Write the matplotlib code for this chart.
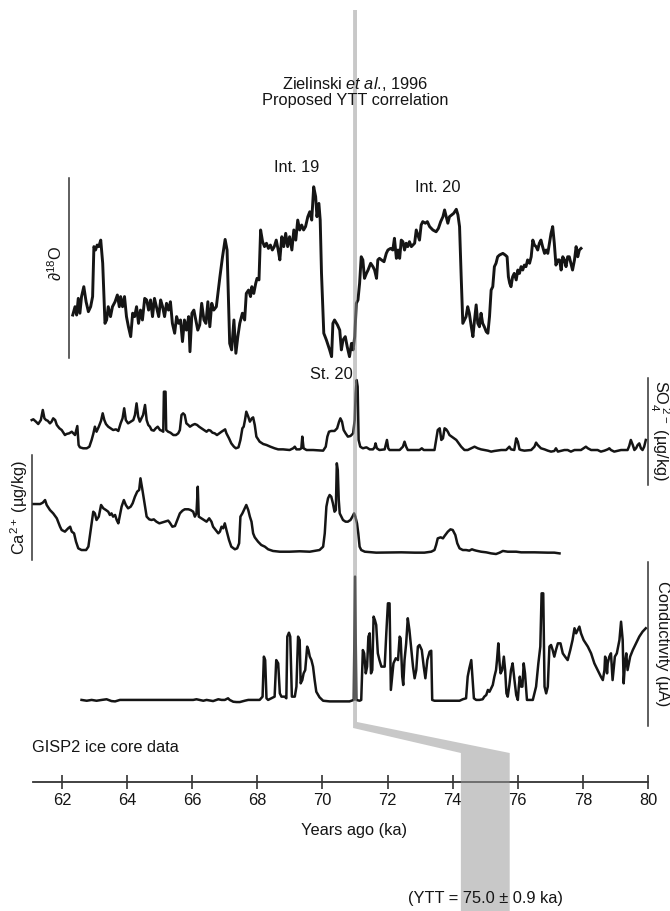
import matplotlib
matplotlib.use('Agg')
import matplotlib.pyplot as plt
from matplotlib.patches import Polygon

plt.rcParams['font.family'] = ['Liberation Sans', 'DejaVu Sans']
plt.rcParams['mathtext.fontset'] = 'custom'
plt.rcParams['mathtext.rm'] = 'Liberation Sans'
plt.rcParams['mathtext.it'] = 'Liberation Sans:italic'

# --- data (age in ka, values in arbitrary panel units) ---
d18o_age = [62.33, 62.40, 62.45, 62.50, 62.55, 62.60, 62.67, 62.74, 62.81, 62.88,
            62.94, 62.98, 63.03, 63.08, 63.13, 63.19, 63.25, 63.32, 63.37, 63.42,
            63.49, 63.55, 63.63, 63.70, 63.76, 63.80, 63.86, 63.92, 63.98, 64.04,
            64.11, 64.17, 64.23, 64.29, 64.35, 64.41, 64.47, 64.54, 64.60, 64.66,
            64.72, 64.78, 64.84, 64.90, 64.97, 65.03, 65.09, 65.15, 65.21, 65.27,
            65.33, 65.39, 65.46, 65.52, 65.58, 65.64, 65.70, 65.76, 65.82, 65.89,
            65.93, 65.99, 66.05, 66.11, 66.17, 66.23, 66.29, 66.36, 66.42, 66.48,
            66.54, 66.60, 66.66, 66.74, 66.85, 66.93, 67.01, 67.07, 67.15, 67.21,
            67.28, 67.34, 67.40, 67.46, 67.54, 67.61, 67.66, 67.73, 67.79, 67.83,
            67.89, 67.95, 67.99, 68.05, 68.10, 68.16, 68.22, 68.28, 68.34, 68.40,
            68.46, 68.52, 68.58, 68.64, 68.69, 68.75, 68.81, 68.87, 68.93, 68.99,
            69.06, 69.12, 69.18, 69.24, 69.30, 69.36, 69.42, 69.48, 69.55, 69.61,
            69.67, 69.73, 69.79, 69.83, 69.89, 69.93, 69.97, 70.04, 70.12, 70.22,
            70.28, 70.32, 70.37, 70.46, 70.53, 70.58, 70.63, 70.70, 70.76, 70.83,
            70.89, 70.94, 70.99, 71.04, 71.09, 71.14, 71.19, 71.24, 71.29, 71.35,
            71.40, 71.48, 71.55, 71.60, 71.66, 71.70, 71.75, 71.81, 71.89, 71.96,
            72.01, 72.09, 72.16, 72.21, 72.27, 72.32, 72.37, 72.42, 72.47, 72.52,
            72.57, 72.62, 72.67, 72.73, 72.83, 72.88, 72.93, 72.98, 73.03, 73.08,
            73.16, 73.22, 73.29, 73.39, 73.49, 73.56, 73.63, 73.70, 73.75, 73.80,
            73.85, 73.90, 73.97, 74.03, 74.11, 74.16, 74.21, 74.26, 74.31, 74.36,
            74.41, 74.46, 74.51, 74.57, 74.62, 74.67, 74.72, 74.77, 74.82, 74.87,
            74.92, 74.97, 75.03, 75.08, 75.13, 75.18, 75.23, 75.28, 75.33, 75.38,
            75.44, 75.54, 75.61, 75.67, 75.71, 75.75, 75.79, 75.84, 75.89, 75.95,
            76.00, 76.05, 76.10, 76.15, 76.20, 76.25, 76.30, 76.36, 76.41, 76.46,
            76.51, 76.56, 76.61, 76.66, 76.71, 76.76, 76.82, 76.87, 76.92, 76.97,
            77.02, 77.07, 77.12, 77.17, 77.23, 77.28, 77.33, 77.38, 77.43, 77.48,
            77.53, 77.58, 77.63, 77.68, 77.74, 77.79, 77.84, 77.89, 77.94]
d18o_val = [-42.09, -41.72, -42.09, -41.35, -42.01, -41.27, -40.83, -41.50, -41.94, -41.72,
            -41.27, -39.05, -39.20, -38.98, -39.05, -38.76, -39.79, -42.46, -42.31, -41.72,
            -42.16, -41.72, -41.50, -41.20, -41.72, -41.27, -41.72, -41.27, -42.16, -42.61,
            -43.05, -42.01, -42.16, -41.72, -42.46, -41.87, -42.31, -41.35, -41.42, -41.87,
            -41.42, -42.16, -41.35, -41.72, -42.16, -41.42, -41.72, -42.16, -41.57, -41.87,
            -41.50, -42.46, -42.90, -42.16, -42.46, -42.31, -43.27, -42.31, -42.76, -42.16,
            -43.72, -42.01, -41.87, -42.31, -42.76, -42.53, -41.57, -42.31, -42.46, -41.50,
            -42.61, -41.57, -41.87, -41.72, -40.39, -39.50, -38.73, -39.20, -43.35, -43.64,
            -42.31, -43.79, -43.05, -42.46, -42.01, -42.31, -41.13, -40.98, -41.27, -40.83,
            -41.13, -40.68, -40.46, -40.53, -38.31, -38.83, -39.05, -38.90, -39.13, -38.98,
            -39.20, -39.05, -38.76, -39.20, -39.64, -38.61, -39.05, -38.46, -39.05, -38.61,
            -39.20, -38.31, -38.76, -37.87, -38.31, -38.09, -38.31, -38.16, -37.72, -37.50,
            -37.87, -36.39, -36.83, -37.72, -37.13, -37.87, -40.24, -42.90, -43.20, -43.64,
            -43.94, -42.46, -42.31, -42.53, -42.76, -43.64, -43.20, -43.05, -43.50, -43.94,
            -43.35, -43.64, -43.05, -41.57, -41.42, -40.68, -39.50, -39.64, -40.46, -40.24,
            -40.09, -39.79, -39.94, -40.09, -40.46, -39.64, -39.57, -39.64, -39.72, -39.35,
            -39.20, -39.13, -39.20, -38.68, -39.57, -39.20, -39.57, -38.76, -38.83, -39.20,
            -38.90, -39.05, -38.83, -39.05, -38.90, -38.31, -38.53, -38.76, -38.09, -37.94,
            -38.01, -37.94, -38.16, -38.31, -38.39, -38.24, -37.94, -37.72, -37.42, -37.72,
            -38.01, -37.72, -37.64, -37.57, -37.39, -37.64, -38.16, -40.39, -42.46, -42.31,
            -42.16, -41.72, -42.01, -42.61, -43.05, -42.31, -41.64, -42.46, -42.61, -42.01,
            -42.46, -42.61, -42.83, -42.90, -42.16, -40.98, -40.83, -39.94, -39.79, -39.50,
            -39.42, -39.35, -39.42, -39.50, -40.39, -40.68, -40.83, -40.39, -40.24, -40.53,
            -40.09, -40.24, -39.94, -40.09, -39.87, -39.94, -39.64, -39.79, -39.50, -38.76,
            -38.98, -39.05, -39.20, -38.90, -38.76, -39.05, -39.35, -39.20, -39.35, -38.90,
            -38.46, -38.16, -38.90, -39.87, -39.64, -39.64, -40.09, -39.50, -39.64, -39.94,
            -39.50, -39.50, -39.79, -40.09, -39.64, -39.05, -39.50, -39.20, -39.13]

so4_age = [61.07, 61.12, 61.20, 61.27, 61.35, 61.41, 61.46, 61.51, 61.56, 61.63,
           61.68, 61.73, 61.79, 61.84, 61.92, 61.99, 62.09, 62.14, 62.22, 62.30,
           62.35, 62.40, 62.47, 62.51, 62.55, 62.65, 62.76, 62.84, 62.91, 62.96,
           63.01, 63.06, 63.13, 63.20, 63.25, 63.30, 63.35, 63.42, 63.49, 63.57,
           63.66, 63.73, 63.80, 63.86, 63.91, 63.96, 64.03, 64.11, 64.19, 64.24,
           64.29, 64.34, 64.39, 64.44, 64.49, 64.55, 64.60, 64.65, 64.70, 64.75,
           64.82, 64.88, 64.94, 65.01, 65.06, 65.11, 65.13, 65.18, 65.20, 65.26,
           65.33, 65.42, 65.50, 65.57, 65.62, 65.67, 65.72, 65.77, 65.82, 65.88,
           65.93, 66.01, 66.08, 66.15, 66.21, 66.28, 66.36, 66.44, 66.50, 66.56,
           66.62, 66.69, 66.76, 66.83, 66.90, 66.95, 67.01, 67.05, 67.13, 67.20,
           67.28, 67.34, 67.42, 67.48, 67.54, 67.58, 67.62, 67.66, 67.72, 67.77,
           67.83, 67.87, 67.92, 67.97, 68.07, 68.18, 68.28, 68.40, 68.53, 68.64,
           68.79, 68.99, 69.10, 69.15, 69.20, 69.30, 69.35, 69.38, 69.42, 69.51,
           69.71, 70.02, 70.10, 70.15, 70.20, 70.27, 70.37, 70.45, 70.51, 70.55,
           70.60, 70.65, 70.71, 70.78, 70.86, 70.94, 70.99, 71.02, 71.05, 71.08,
           71.11, 71.16, 71.24, 71.35, 71.45, 71.55, 71.60, 71.63, 71.67, 71.75,
           71.91, 71.98, 72.02, 72.06, 72.37, 72.47, 72.52, 72.57, 72.62, 72.98,
           73.05, 73.11, 73.44, 73.49, 73.54, 73.60, 73.65, 73.70, 73.75, 73.80,
           73.85, 73.90, 74.00, 74.11, 74.21, 74.26, 74.36, 74.46, 74.57, 74.67,
           74.77, 74.87, 74.97, 75.08, 75.18, 75.28, 75.49, 75.64, 75.69, 75.74,
           75.79, 75.89, 75.95, 76.00, 76.05, 76.10, 76.20, 76.41, 76.51, 76.56,
           76.61, 76.71, 76.82, 76.92, 77.02, 77.12, 77.17, 77.23, 77.43, 77.53,
           77.63, 77.74, 77.94, 78.02, 78.09, 78.15, 78.25, 78.45, 78.55, 78.66,
           78.76, 78.81, 78.86, 78.96, 79.17, 79.37, 79.42, 79.47, 79.53, 79.58,
           79.63, 79.68, 79.73, 79.78, 79.83, 79.88, 79.93]
so4_val = [60.7, 61.4, 59.2, 57.0, 60.7, 70.1, 62.3, 60.7, 60.1, 57.6,
           59.2, 62.3, 60.7, 56.1, 53.0, 51.4, 46.7, 47.7, 48.3, 49.8,
           48.3, 46.7, 55.1, 37.4, 35.2, 34.3, 34.3, 35.8, 42.1, 47.7,
           54.5, 49.8, 54.5, 60.1, 67.0, 60.7, 57.0, 54.5, 53.0, 51.4,
           52.0, 50.5, 57.6, 62.3, 71.7, 60.7, 57.6, 59.2, 60.7, 65.4,
           76.3, 63.9, 59.2, 62.3, 65.4, 74.8, 60.7, 56.1, 54.5, 51.4,
           50.8, 53.0, 54.5, 51.4, 50.8, 49.8, 87.2, 87.2, 51.4, 49.8,
           48.9, 46.7, 46.7, 48.3, 51.4, 65.4, 67.0, 65.4, 57.6, 56.1,
           54.5, 56.1, 57.0, 56.1, 54.5, 53.0, 51.4, 49.8, 51.4, 50.8,
           48.9, 48.3, 46.7, 48.3, 49.8, 50.8, 52.0, 48.3, 43.6, 38.9,
           35.8, 34.3, 35.2, 42.1, 53.0, 54.5, 60.7, 68.5, 63.9, 59.2,
           62.3, 63.2, 56.1, 45.2, 40.5, 38.3, 37.4, 35.8, 34.3, 33.3,
           33.3, 32.7, 34.3, 35.8, 33.3, 33.3, 34.3, 45.2, 34.3, 32.7,
           32.7, 32.1, 35.8, 45.2, 49.8, 50.5, 50.5, 53.0, 59.2, 62.3,
           59.2, 51.4, 48.3, 45.2, 45.8, 48.3, 60.7, 85.7, 98.1, 91.9,
           42.1, 35.8, 34.3, 35.2, 33.3, 33.3, 35.2, 38.9, 34.3, 32.7,
           33.3, 42.1, 34.3, 32.7, 32.7, 35.8, 40.5, 35.8, 32.7, 32.7,
           34.3, 32.7, 32.7, 42.1, 51.4, 53.0, 42.1, 43.6, 53.0, 52.0,
           49.8, 46.7, 44.5, 42.1, 38.0, 35.8, 32.7, 32.7, 34.3, 35.8,
           34.3, 33.3, 32.7, 32.1, 31.2, 31.8, 32.7, 32.7, 34.3, 35.8,
           33.3, 32.7, 43.6, 40.5, 33.3, 32.7, 32.1, 32.7, 35.8, 39.6,
           37.4, 34.3, 33.3, 32.1, 31.2, 31.8, 34.3, 31.2, 32.7, 32.7,
           31.2, 32.7, 32.7, 34.3, 35.8, 34.3, 32.7, 32.7, 31.2, 32.1,
           33.3, 34.3, 32.7, 31.2, 32.7, 32.7, 36.4, 42.1, 37.4, 32.7,
           34.3, 37.4, 38.9, 34.3, 32.7, 35.8, 42.1]

ca_age = [61.12, 61.33, 61.41, 61.48, 61.53, 61.63, 61.73, 61.84, 61.94, 61.99,
          62.09, 62.19, 62.25, 62.30, 62.37, 62.43, 62.50, 62.60, 62.74, 62.81,
          62.86, 62.91, 62.96, 63.01, 63.06, 63.13, 63.20, 63.27, 63.35, 63.42,
          63.47, 63.52, 63.57, 63.63, 63.68, 63.73, 63.78, 63.83, 63.90, 63.96,
          64.03, 64.11, 64.17, 64.24, 64.31, 64.37, 64.41, 64.47, 64.55, 64.60,
          64.68, 64.75, 64.82, 64.90, 64.99, 65.06, 65.16, 65.26, 65.31, 65.39,
          65.47, 65.54, 65.62, 65.70, 65.77, 65.88, 65.95, 66.03, 66.08, 66.13,
          66.17, 66.20, 66.28, 66.36, 66.44, 66.52, 66.59, 66.64, 66.72, 66.80,
          66.85, 66.90, 66.95, 67.00, 67.05, 67.13, 67.20, 67.31, 67.38, 67.44,
          67.48, 67.54, 67.61, 67.66, 67.72, 67.77, 67.82, 67.87, 67.92, 68.02,
          68.12, 68.23, 68.33, 68.48, 68.69, 68.99, 69.30, 69.61, 69.91, 70.02,
          70.07, 70.12, 70.17, 70.22, 70.27, 70.32, 70.37, 70.41, 70.44, 70.47,
          70.50, 70.53, 70.58, 70.63, 70.71, 70.78, 70.86, 70.92, 70.97, 71.01,
          71.06, 71.10, 71.14, 71.19, 71.30, 71.65, 72.42, 72.83, 73.13, 73.34,
          73.44, 73.49, 73.54, 73.63, 73.70, 73.75, 73.85, 73.93, 74.00, 74.08,
          74.14, 74.21, 74.31, 74.41, 74.51, 74.59, 74.65, 74.72, 74.87, 75.03,
          75.18, 75.33, 75.44, 75.54, 75.69, 75.95, 76.10, 76.51, 76.92, 77.12,
          77.28]
ca_val = [53.3, 53.3, 54.6, 57.1, 52.4, 47.6, 44.4, 39.7, 31.7, 28.6,
          27.0, 30.2, 31.7, 27.0, 25.4, 17.5, 11.1, 9.5, 9.5, 12.7,
          23.8, 34.9, 46.0, 44.4, 38.1, 41.3, 52.4, 49.2, 47.6, 46.0,
          42.9, 44.4, 41.3, 42.9, 38.1, 34.9, 42.9, 50.8, 57.1, 52.4,
          49.2, 50.8, 54.0, 60.3, 65.1, 66.7, 77.8, 66.7, 50.8, 41.3,
          38.7, 38.1, 38.7, 36.5, 34.9, 35.6, 36.5, 37.5, 35.6, 31.7,
          32.4, 38.1, 44.4, 47.0, 48.3, 48.3, 47.6, 46.0, 41.3, 44.4,
          69.8, 41.3, 39.7, 38.1, 36.5, 39.7, 36.5, 31.7, 28.6, 25.4,
          27.0, 31.7, 30.2, 34.9, 28.6, 19.0, 12.7, 10.2, 11.1, 15.9,
          41.3, 44.4, 49.2, 52.4, 47.6, 41.3, 36.5, 25.4, 21.6, 17.5,
          14.3, 12.7, 10.2, 8.6, 7.9, 7.9, 8.3, 7.9, 9.5, 12.7,
          25.4, 50.8, 58.7, 61.9, 60.3, 54.0, 46.0, 47.6, 92.1, 85.7,
          57.1, 44.4, 41.3, 38.1, 36.5, 36.5, 38.1, 41.3, 44.4, 41.3,
          34.9, 25.4, 12.7, 9.5, 7.9, 7.0, 7.3, 7.0, 7.0, 7.9,
          9.5, 14.3, 20.6, 21.6, 20.6, 22.9, 27.0, 29.2, 28.6, 23.8,
          15.9, 11.1, 9.5, 9.5, 8.9, 10.2, 9.5, 8.9, 7.9, 7.3,
          6.3, 5.7, 7.0, 8.6, 7.9, 7.9, 7.3, 7.3, 7.0, 7.0,
          6.3]

cond_age = [62.60, 62.76, 62.91, 63.06, 63.22, 63.37, 63.52, 63.63, 63.78, 63.93,
            66.03, 66.13, 66.23, 66.34, 66.44, 66.64, 66.80, 66.90, 67.00, 67.10,
            67.15, 67.26, 67.36, 67.46, 67.61, 67.72, 68.07, 68.16, 68.20, 68.24,
            68.28, 68.33, 68.43, 68.53, 68.58, 68.64, 68.69, 68.74, 68.84, 68.89,
            68.92, 68.97, 69.01, 69.06, 69.15, 69.20, 69.25, 69.30, 69.33, 69.38,
            69.42, 69.47, 69.53, 69.57, 69.61, 69.66, 69.71, 69.76, 69.81, 69.91,
            70.02, 70.22, 70.83, 70.96, 71.00, 71.04, 71.14, 71.19, 71.24, 71.28,
            71.33, 71.37, 71.41, 71.45, 71.49, 71.53, 71.57, 71.61, 71.65, 71.70,
            71.75, 71.81, 71.91, 71.96, 72.01, 72.06, 72.10, 72.14, 72.18, 72.25,
            72.32, 72.37, 72.40, 72.45, 72.48, 72.52, 72.57, 72.62, 72.67, 72.73,
            72.78, 72.83, 72.88, 72.93, 72.98, 73.05, 73.11, 73.16, 73.22, 73.29,
            73.34, 73.37, 73.44, 74.21, 74.31, 74.41, 74.46, 74.51, 74.57, 74.62,
            74.65, 74.72, 74.82, 74.92, 74.97, 75.03, 75.08, 75.13, 75.18, 75.23,
            75.28, 75.33, 75.36, 75.40, 75.44, 75.47, 75.52, 75.57, 75.61, 75.65,
            75.69, 75.74, 75.79, 75.84, 75.89, 75.95, 76.00, 76.03, 76.06, 76.10,
            76.14, 76.18, 76.22, 76.28, 76.46, 76.56, 76.63, 76.69, 76.73, 76.78,
            76.82, 76.87, 76.92, 76.97, 77.02, 77.07, 77.12, 77.17, 77.23, 77.31,
            77.38, 77.45, 77.53, 77.61, 77.68, 77.74, 77.79, 77.84, 77.89, 77.94,
            78.02, 78.15, 78.25, 78.35, 78.45, 78.55, 78.61, 78.66, 78.68, 78.71,
            78.74, 78.76, 78.81, 78.86, 78.91, 78.94, 78.98, 79.04, 79.12, 79.17,
            79.22, 79.25, 79.29, 79.33, 79.37, 79.41, 79.45, 79.53, 79.63, 79.73,
            79.83, 79.93]
cond_val = [15.9, 15.4, 15.9, 15.4, 15.9, 16.3, 15.2, 15.0, 15.9, 15.9,
            15.9, 16.3, 15.9, 15.4, 15.9, 15.2, 16.3, 15.9, 15.9, 16.9,
            15.9, 14.8, 14.6, 14.6, 15.4, 15.9, 15.9, 17.9, 42.3, 40.2,
            16.9, 15.9, 16.9, 17.9, 40.2, 38.2, 19.9, 17.9, 17.9, 16.9,
            54.5, 56.9, 54.5, 17.9, 17.9, 24.0, 54.5, 52.4, 26.0, 28.0,
            32.1, 34.1, 48.4, 46.3, 42.3, 40.2, 36.2, 28.0, 20.9, 17.5,
            15.4, 15.0, 15.0, 15.9, 91.1, 15.9, 15.4, 15.9, 46.3, 44.3,
            32.1, 36.2, 54.5, 56.5, 32.1, 34.1, 66.7, 64.6, 61.6, 44.3,
            40.2, 36.2, 36.2, 56.5, 74.8, 74.8, 22.0, 30.1, 38.2, 41.3,
            40.2, 54.5, 53.5, 30.1, 25.0, 40.2, 50.4, 65.7, 58.5, 46.3,
            36.2, 29.1, 34.1, 48.4, 49.4, 46.3, 36.2, 29.1, 40.2, 45.3,
            45.9, 15.9, 15.4, 15.4, 16.3, 16.9, 30.1, 35.2, 40.2, 26.0,
            16.9, 15.9, 15.9, 16.3, 17.9, 18.9, 22.0, 20.9, 23.0, 25.0,
            30.1, 34.1, 40.2, 50.4, 38.2, 32.1, 34.1, 42.3, 34.1, 19.9,
            17.9, 25.0, 34.1, 38.2, 29.1, 18.9, 15.9, 24.0, 30.1, 24.0,
            24.0, 38.2, 32.1, 15.9, 15.9, 24.0, 38.2, 48.4, 80.9, 80.9,
            24.0, 19.9, 24.0, 48.4, 49.4, 46.3, 42.3, 46.3, 50.4, 50.4,
            44.3, 42.3, 40.2, 46.3, 52.4, 59.6, 56.5, 58.5, 60.6, 56.5,
            52.4, 48.4, 44.3, 38.2, 34.1, 30.1, 28.0, 34.1, 42.3, 40.2,
            32.1, 38.2, 42.3, 44.3, 28.0, 34.1, 42.3, 44.3, 52.4, 63.6,
            52.4, 26.0, 38.2, 44.3, 34.1, 38.2, 42.3, 46.3, 50.4, 54.5,
            57.5, 59.6]

age_ticks = [62, 64, 66, 68, 70, 72, 74, 76, 78, 80]
ytt_age = 71.0            # proposed correlation line
ytt_band = (74.25, 75.75)  # drawn YTT age band

# --- layout ---
W, H = 670.0, 911.0
XLIM = (62 - 62 / 32.56, 62 + 608 / 32.56)
INK = '#151515'
FS = 11.8

fig = plt.figure(figsize=(W / 100, H / 100), dpi=100)


def panel(top_px, bottom_px, ylim):
    ax = fig.add_axes([0, 1 - bottom_px / H, 1, (bottom_px - top_px) / H])
    ax.set_xlim(XLIM)
    ax.set_ylim(ylim)
    ax.patch.set_alpha(0)
    for s in ax.spines.values():
        s.set_visible(False)
    ax.set_xticks([])
    ax.set_yticks([])
    return ax


def spine_at(ax, side, age):
    sp = ax.spines[side]
    sp.set_visible(True)
    sp.set_position(('data', age))
    sp.set_linewidth(1.1)
    sp.set_color('#333333')


ax_o = panel(178, 358, (-44, -36))
ax_o.plot(d18o_age, d18o_val, color=INK, lw=2.1, solid_joinstyle='round')
spine_at(ax_o, 'left', 62.2)

ax_s = panel(378, 485, (0, 100))
ax_s.plot(so4_age, so4_val, color=INK, lw=1.8, solid_joinstyle='round')
spine_at(ax_s, 'right', 80.0)

ax_c = panel(455, 560, (0, 100))
ax_c.plot(ca_age, ca_val, color=INK, lw=1.8, solid_joinstyle='round')
spine_at(ax_c, 'left', 61.08)

ax_k = panel(562, 726, (0, 100))
ax_k.plot(cond_age, cond_val, color=INK, lw=1.8, solid_joinstyle='round')
spine_at(ax_k, 'right', 80.0)

# bottom age axis
ax_x = fig.add_axes([0, 1 - 782 / H, 1, 0.001])
ax_x.set_xlim(XLIM)
ax_x.patch.set_alpha(0)
for s in ['top', 'left', 'right']:
    ax_x.spines[s].set_visible(False)
ax_x.spines['bottom'].set_bounds(61.1, 80)
ax_x.spines['bottom'].set_color('#333333')
ax_x.spines['bottom'].set_linewidth(1.3)
ax_x.set_yticks([])
ax_x.set_xticks(age_ticks)
ax_x.set_xticklabels([str(t) for t in age_ticks])
ax_x.tick_params(axis='x', direction='inout', length=9.5, width=1.2,
                 color='#333333', labelsize=FS, labelcolor=INK, pad=3)

# overlay: correlation line, band and labels (x in ka, y in figure fraction)
ov = fig.add_axes([0, 0, 1, 1], zorder=10)
ov.set_xlim(XLIM)
ov.set_ylim(0, 1)
ov.axis('off')


def fy(px):
    return 1 - px / H


hw = 0.06
shape = [(ytt_age - hw, fy(10)), (ytt_age + hw, fy(10)), (ytt_age + hw, fy(722)),
         (ytt_band[1], fy(753)), (ytt_band[1], 0), (ytt_band[0], 0),
         (ytt_band[0], fy(753)), (ytt_age - hw, fy(728))]
ov.add_patch(Polygon(shape, closed=True, facecolor='#979797', edgecolor='none',
                     alpha=0.53, zorder=1))

txt = dict(fontsize=FS, color=INK, ha='center', va='center', zorder=5)
ov.text(71.0, fy(84), r'Zielinski $\it{et\ al}$., 1996', **txt)
ov.text(71.0, fy(101), 'Proposed YTT correlation', **txt)
ov.text(69.22, fy(167), 'Int. 19', **txt)
ov.text(73.55, fy(188), 'Int. 20', **txt)
ov.text(70.26, fy(375), 'St. 20', **txt)
ov.text(61.08, fy(748), 'GISP2 ice core data', fontsize=FS, color=INK,
        ha='left', va='center', zorder=5)
ov.text(70.97, fy(830), 'Years ago (ka)', **txt)
ov.text(75.0, fy(898), '(YTT = 75.0 \u00b1 0.9 ka)', **txt)

ov.text(61.78, fy(263), '\u2202$^{18}$O', rotation=90, **txt)
ov.text(60.68, fy(507), 'Ca$^{2+}$ (\u00b5g/kg)', rotation=90, **txt)
ov.text(80.36, fy(431), 'SO$_4^{\\ 2-}$ (\u00b5g/kg)', rotation=270, **txt)
ov.text(80.44, fy(644), 'Conductivity (\u00b5A)', rotation=270, **txt)

fig.savefig('out.png', dpi=100)
